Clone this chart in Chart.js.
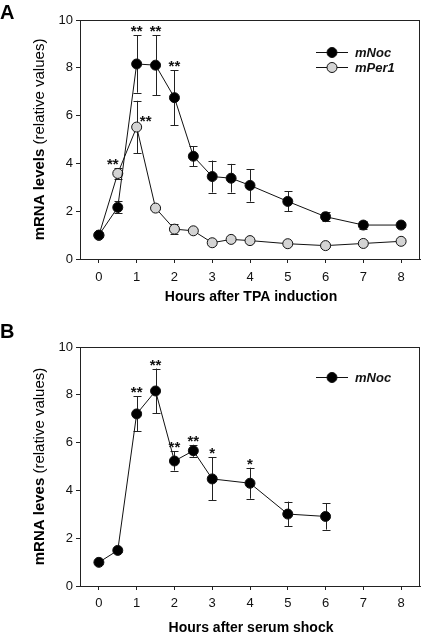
<!DOCTYPE html>
<html><head><meta charset="utf-8">
<script src="https://cdn.jsdelivr.net/npm/chart.js@4/dist/chart.umd.min.js"></script>
<style>
html,body{margin:0;padding:0;background:#fff;}
#wrap{position:relative;width:426px;height:634px;overflow:hidden;}
#ca{position:absolute;left:0;top:0;}
#cb{position:absolute;left:0;top:310px;}
</style></head>
<body><div id="wrap"><canvas id="ca" width="426" height="310"></canvas><canvas id="cb" width="426" height="324"></canvas></div>
<script>
// ---- data ----
const xTicks = [0,1,2,3,4,5,6,7,8];
const yTicks = [0,2,4,6,8,10];

const hoursA = [0,0.5,1,1.5,2,2.5,3,3.5,4,5,6,7,8];
const mNocA = [1.0,2.16,8.16,8.11,6.75,4.30,3.45,3.38,3.08,2.41,1.77,1.42,1.42];
const mNocErrA = [0.05,0.25,1.2,1.25,1.15,0.42,0.67,0.6,0.68,0.42,0.2,0.15,0.1];
const mNocStarsA = ['','','**','**','**','','','','','','','',''];
const mPer1A = [0.99,3.58,5.52,2.13,1.25,1.18,0.68,0.82,0.77,0.64,0.56,0.65,0.74];
const mPer1ErrA = [0.05,0.22,1.1,0.05,0.2,0.05,0.1,0.05,0.05,0.05,0.05,0.05,0.05];
const mPer1StarsA = ['','**','**','','','','','','','','','',''];

const hoursB = [0,0.5,1,1.5,2,2.5,3,4,5,6];
const mNocB = [0.99,1.49,7.20,8.16,5.23,5.66,4.48,4.30,3.01,2.91];
const mNocErrB = [0.05,0.05,0.73,0.94,0.4,0.25,0.9,0.65,0.52,0.55];
const mNocStarsB = ['','','**','**','**','**','*','*','',''];

const FONT = '"Liberation Sans", Arial, Helvetica, sans-serif';
const INK = '#111';

function pts(xs, ys){ return xs.map((x,i)=>({x:x,y:ys[i]})); }

function ds(label, xs, ys, errs, stars, fill, starPlace){
  return {label:label, data:pts(xs,ys), errs:errs, stars:stars, starPlace:starPlace||{},
    borderColor:INK, borderWidth:1, backgroundColor:fill,
    pointRadius:5, pointHoverRadius:5, pointBorderColor:INK, pointBorderWidth:1,
    pointBackgroundColor:fill, tension:0, fill:false};
}

const decorPlugin = {
  id:'decor',
  beforeDatasetsDraw(chart){
    const ctx = chart.ctx, xs = chart.scales.x, ys = chart.scales.y;
    ctx.save();
    ctx.strokeStyle = '#222'; ctx.lineWidth = 1;
    chart.data.datasets.forEach(d=>{
      d.data.forEach((p,i)=>{
        const e = d.errs[i]; if(!e) return;
        const px = Math.round(xs.getPixelForValue(p.x))+0.5;
        const t = ys.getPixelForValue(p.y+e), b = ys.getPixelForValue(p.y-e);
        ctx.beginPath();
        ctx.moveTo(px,t); ctx.lineTo(px,b);
        ctx.moveTo(px-4,Math.round(t)+0.5); ctx.lineTo(px+4,Math.round(t)+0.5);
        ctx.moveTo(px-4,Math.round(b)+0.5); ctx.lineTo(px+4,Math.round(b)+0.5);
        ctx.stroke();
      });
    });
    ctx.restore();
  },
  afterDraw(chart){
    const o = chart.options.plugins.decor;
    const ctx = chart.ctx, xs = chart.scales.x, ys = chart.scales.y, ca = chart.chartArea;
    ctx.save();
    // frame
    ctx.strokeStyle = '#222'; ctx.lineWidth = 1;
    ctx.strokeRect(Math.round(ca.left)+0.5, Math.round(ca.top)+0.5, Math.round(ca.right-ca.left)-1, Math.round(ca.bottom-ca.top));
    // stars
    ctx.fillStyle = INK; ctx.font = 'bold 15px '+FONT; ctx.textAlign='center'; ctx.textBaseline='alphabetic';
    chart.data.datasets.forEach(d=>{
      d.data.forEach((p,i)=>{
        const s = d.stars[i]; if(!s) return;
        const px = xs.getPixelForValue(p.x);
        const place = d.starPlace[i];
        if(place==='left'){
          ctx.fillText(s, px-5, ys.getPixelForValue(p.y+d.errs[i])+1);
        } else if(place==='right'){
          ctx.fillText(s, px+9, ys.getPixelForValue(p.y)-1);
        } else {
          ctx.fillText(s, px, ys.getPixelForValue(p.y+d.errs[i])+1);
        }
      });
    });
    // legend
    chart.data.datasets.forEach((d,k)=>{
      const y = o.legendY + k*15;
      ctx.strokeStyle = INK; ctx.lineWidth = 1;
      ctx.beginPath(); ctx.moveTo(316,y+0.5); ctx.lineTo(348,y+0.5); ctx.stroke();
      ctx.beginPath(); ctx.arc(332,y+0.5,5,0,Math.PI*2); ctx.fillStyle=d.pointBackgroundColor; ctx.fill(); ctx.stroke();
      ctx.fillStyle = INK; ctx.font = 'italic bold 13px '+FONT; ctx.textAlign='left'; ctx.textBaseline='middle';
      ctx.fillText(d.label, 355, y+1);
    });
    // panel letter
    ctx.fillStyle = '#000'; ctx.font = 'bold 20px '+FONT; ctx.textAlign='left'; ctx.textBaseline='alphabetic';
    ctx.fillText(o.panel, 0, o.panelY);
    // x title
    ctx.font = 'bold 14px '+FONT; ctx.textAlign='center'; ctx.textBaseline='middle';
    ctx.fillText(o.xTitle, 251, o.xTitleY);
    // y title (bold + normal)
    ctx.translate(40, (ca.top+ca.bottom)/2);
    ctx.rotate(-Math.PI/2);
    ctx.font = 'bold 15px '+FONT; const w1 = ctx.measureText(o.yBold).width;
    ctx.font = '15px '+FONT; const w2 = ctx.measureText(o.yNormal).width;
    const start = -(w1+w2)/2;
    ctx.textAlign='left'; ctx.textBaseline='middle';
    ctx.font = 'bold 15px '+FONT; ctx.fillText(o.yBold, start, 0);
    ctx.font = '15px '+FONT; ctx.fillText(o.yNormal, start+w1, 0);
    ctx.restore();
  }
};

function makeOpts(padTop, xH, tickPad, decor){
  return {
    responsive:false, animation:false, events:[],
    layout:{padding:{top:padTop, right:1, left:0, bottom:0}},
    plugins:{legend:{display:false}, tooltip:{enabled:false}, decor:decor},
    scales:{
      x:{type:'linear', min:-0.5, max:8.5,
        afterBuildTicks:(a)=>{a.ticks = xTicks.map(v=>({value:v}));},
        afterFit:(a)=>{a.height = xH;},
        grid:{drawOnChartArea:false, drawTicks:true, tickLength:4, color:'#222'},
        border:{display:true, color:'#222'},
        ticks:{padding:tickPad, color:'#111', font:{family:FONT, size:13}, maxRotation:0}},
      y:{type:'linear', min:0, max:10,
        afterBuildTicks:(a)=>{a.ticks = yTicks.map(v=>({value:v}));},
        afterFit:(a)=>{a.width = 80;},
        grid:{drawOnChartArea:false, drawTicks:true, tickLength:4, color:'#222'},
        border:{display:true, color:'#222'},
        ticks:{padding:3, color:'#111', font:{family:FONT, size:13}}}
    }
  };
}

new Chart(document.getElementById('ca'), {
  type:'line',
  data:{datasets:[
    ds('mNoc', hoursA, mNocA, mNocErrA, mNocStarsA, '#000'),
    ds('mPer1', hoursA, mPer1A, mPer1ErrA, mPer1StarsA, '#d4d4d4', {1:'left',2:'right'})
  ]},
  options: makeOpts(20, 51, 7, {panel:'A', panelY:19, legendY:52, xTitle:'Hours after TPA induction', xTitleY:297, yBold:'mRNA levels ', yNormal:'(relative values)'}),
  plugins:[decorPlugin]
});

new Chart(document.getElementById('cb'), {
  type:'line',
  data:{datasets:[
    ds('mNoc', hoursB, mNocB, mNocErrB, mNocStarsB, '#000')
  ]},
  options: makeOpts(37, 48, 6, {panel:'B', panelY:28, legendY:67, xTitle:'Hours after serum shock', xTitleY:318, yBold:'mRNA leves ', yNormal:'(relative values)'}),
  plugins:[decorPlugin]
});
</script></body></html>
